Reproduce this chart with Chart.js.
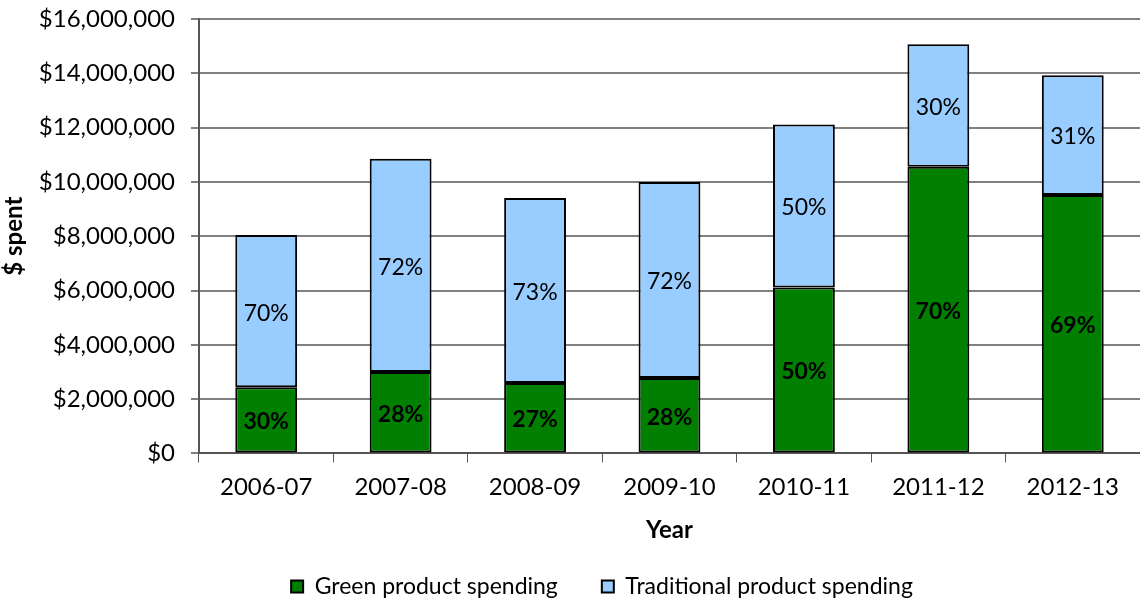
<!DOCTYPE html>
<html>
<head>
<meta charset="utf-8">
<script src="https://cdn.jsdelivr.net/npm/chart.js@4"></script>
<style>
  html, body { margin: 0; padding: 0; background: #fff; }
  #wrap { width: 1140px; height: 603px; }
</style>
</head>
<body>
<div id="wrap"><canvas id="myChart"></canvas></div>
<script>
// Data
var years = ['2006-07', '2007-08', '2008-09', '2009-10', '2010-11', '2011-12', '2012-13'];
var greenSpend = [2440000, 3000000, 2590000, 2780000, 6110000, 10560000, 9520000];
var traditionalSpend = [5600000, 7850000, 6820000, 7220000, 6000000, 4510000, 4410000];
var greenPct = ['30%', '28%', '27%', '28%', '50%', '70%', '69%'];
var traditionalPct = ['70%', '72%', '73%', '72%', '50%', '30%', '31%'];

var fontFamily = 'Lato, sans-serif';
var fontSize = 24;

// draw the percent labels in the middle of each segment
var segmentLabels = {
  id: 'segmentLabels',
  afterDatasetsDraw: function (chart) {
    var ctx = chart.ctx;
    var texts = [greenPct, traditionalPct];
    ctx.save();
    ctx.fillStyle = '#000';
    ctx.textAlign = 'center';
    ctx.textBaseline = 'middle';
    chart.data.datasets.forEach(function (ds, i) {
      ctx.font = (i === 0 ? 'bold ' : '') + '23px ' + fontFamily;
      chart.getDatasetMeta(i).data.forEach(function (bar, j) {
        var mid = (bar.y + bar.base) / 2;
        ctx.fillText(texts[i][j], bar.x, mid + 2);
      });
    });
    ctx.restore();
  }
};

// nudge the legend a bit to the right like the original
var legendShift = {
  id: 'legendShift',
  afterLayout: function (chart) {
    if (chart.legend) {
      chart.legend.left += 32;
      chart.legend.right += 32;
    }
  }
};

var myChart = new Chart(document.getElementById('myChart'), {
  type: 'bar',
  data: {
    labels: years,
    datasets: [
      {
        label: 'Green product spending',
        data: greenSpend,
        backgroundColor: '#007F00',
        borderColor: '#000',
        borderWidth: 2,
        borderSkipped: false,
        barPercentage: 0.46,
        categoryPercentage: 1.0
      },
      {
        label: 'Traditional product spending',
        data: traditionalSpend,
        backgroundColor: '#99CCFF',
        borderColor: '#000',
        borderWidth: 2,
        borderSkipped: false,
        barPercentage: 0.46,
        categoryPercentage: 1.0
      }
    ]
  },
  options: {
    responsive: true,
    maintainAspectRatio: false,
    animation: false,
    layout: { padding: { left: 0, right: 0, top: 19, bottom: -5 } },
    scales: {
      x: {
        stacked: true,
        grid: {
          offset: true,
          drawOnChartArea: false,
          drawTicks: true,
          tickLength: 9,
          color: '#555'
        },
        border: { color: '#555', width: 2 },
        ticks: { color: '#000', font: { family: fontFamily, size: fontSize }, padding: 10 },
        title: {
          display: true,
          text: 'Year',
          color: '#000',
          font: { family: fontFamily, size: fontSize, weight: 'bold' },
          padding: { top: 5, bottom: -14 }
        }
      },
      y: {
        stacked: true,
        min: 0,
        max: 16000000,
        afterFit: function (scale) { scale.paddingTop = 0; },
        ticks: {
          stepSize: 2000000,
          color: '#000',
          font: { family: fontFamily, size: fontSize },
          padding: 16,
          callback: function (v) { return '$' + v.toLocaleString('en-US'); }
        },
        grid: { color: '#808080', lineWidth: 2, tickLength: 8 },
        border: { color: '#555', width: 2 },
        title: {
          display: true,
          text: '$ spent',
          color: '#000',
          font: { family: fontFamily, size: fontSize, weight: 'bold' },
          padding: { top: 0, bottom: -6 }
        }
      }
    },
    plugins: {
      legend: {
        position: 'bottom',
        labels: {
          color: '#000',
          font: { family: fontFamily, size: 23 },
          boxWidth: 12,
          boxHeight: 12,
          padding: 44,
          useBorderRadius: false
        }
      },
      tooltip: { enabled: false }
    }
  },
  plugins: [segmentLabels, legendShift]
});
</script>
</body>
</html>
